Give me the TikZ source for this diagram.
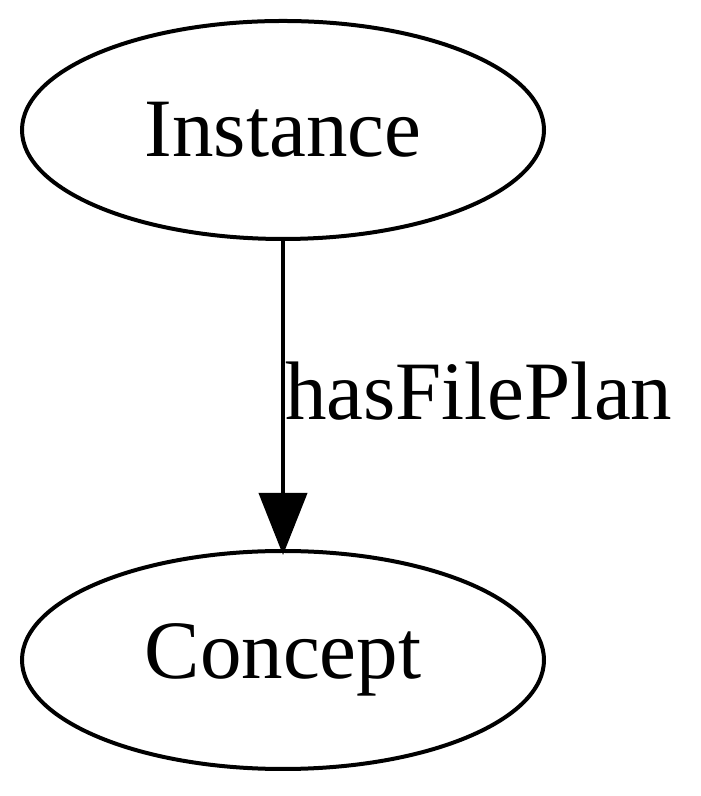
\documentclass[tikz,border=0pt]{standalone}
\usepackage{fontspec}
\setmainfont{Liberation Serif}
\usetikzlibrary{shapes.geometric,arrows.meta}

\begin{document}
\begin{tikzpicture}[x=1pt, y=1pt,
		oval/.style={draw, ellipse, line width=2pt, minimum width=261pt, minimum height=109pt, inner sep=0pt, font=\fontsize{41.5}{45}\selectfont}]
		%%%%% START %%%%%
		
		\useasboundingbox (0, 0) rectangle (350, 398);
		
		\node[oval] (inst) at (141.5, 333) {Instance};
		\node[oval] (conc) at (141.5, 68) {Concept};
		
		\draw[line width=2pt, -{Triangle[length=31pt, width=24pt]}, shorten >=-3pt] (inst.south) -- (conc.north)
			node[midway, anchor=west, inner sep=0pt, font=\fontsize{41.5}{45}\selectfont, yshift=2pt] (lbl) {hasFilePlan};
		
		%%%%% END %%%%%
	\end{tikzpicture}
\end{document}
